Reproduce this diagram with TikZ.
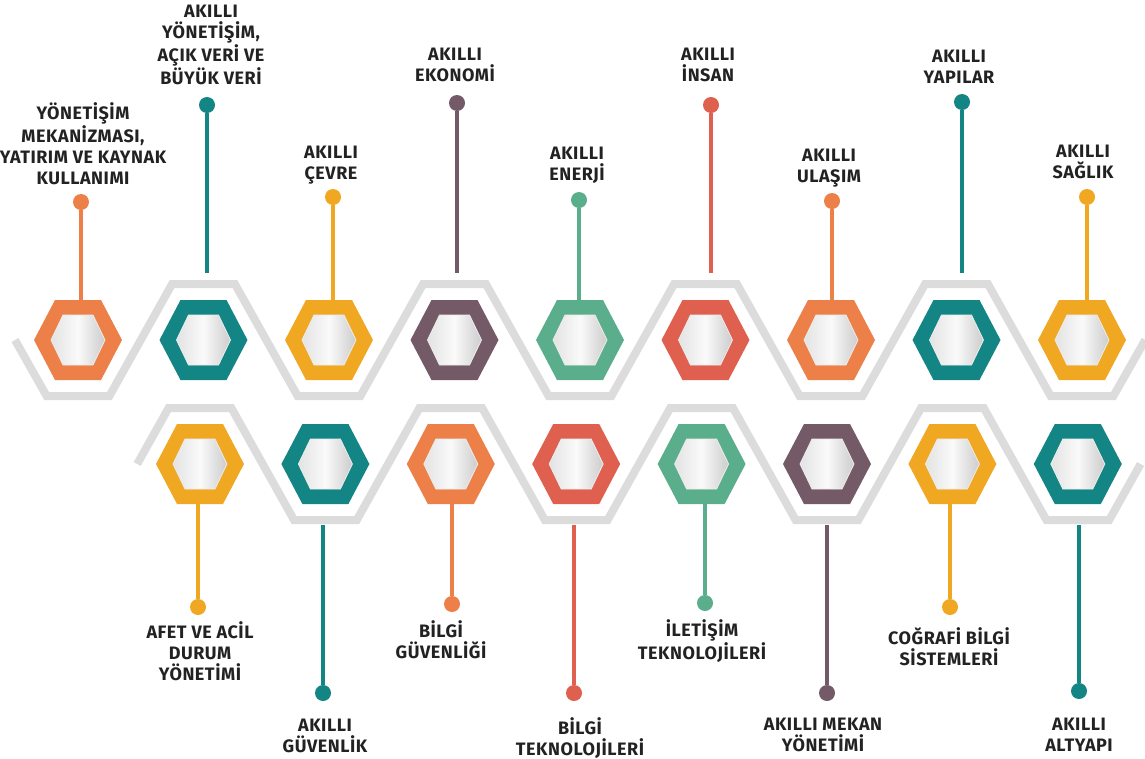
\documentclass[tikz,border=0pt]{standalone}
\usepackage{fontspec}
\setmainfont{Fira Sans}
\newfontfamily\labfont[LetterSpace=3]{Fira Sans}
\definecolor{cor}{HTML}{EC8048}
\definecolor{cte}{HTML}{138584}
\definecolor{cye}{HTML}{F0A823}
\definecolor{cpu}{HTML}{735A66}
\definecolor{cgr}{HTML}{5BAE8C}
\definecolor{cre}{HTML}{E0604F}
\definecolor{bandc}{HTML}{DCDCDC}
\definecolor{txt}{HTML}{222222}
\newcommand\hexring[4]{% name, x, y, colour
  \fill[#4] (#2-44,#3) -- (#2-23,#3-40) -- (#2+23,#3-40) -- (#2+44,#3) -- (#2+23,#3+40) -- (#2-23,#3+40) -- cycle;
  \shade[left color=gray!22, right color=gray!40, middle color=white!96!gray, draw=white!85!gray, line width=0.8pt]
    (#2-27,#3) -- (#2-15,#3-25) -- (#2+15,#3-25) -- (#2+27,#3) -- (#2+15,#3+25) -- (#2-15,#3+25) -- cycle;
  \node[hexbox] (#1) at (#2,#3) {};
}
\begin{document}
\begin{tikzpicture}[x=1pt,y=-1pt,
  hexbox/.style={inner sep=0pt, minimum width=88pt, minimum height=80pt},
  band/.style={draw=bandc, line width=8pt, line join=miter},
  pin/.style={line width=3.6pt},
  dot/.style={circle, inner sep=0pt, minimum size=16pt},
  lab/.style={align=center, inner sep=0pt, text=txt, font=\labfont\bfseries\fontsize{18}{21}\selectfont, anchor=base}]
\useasboundingbox (0,0) rectangle (1145,758);
\fill[white] (0,0) rectangle (1145,758);

% grey zigzag bands
\draw[band] (15,340) -- (46.6,396) -- (109.4,396) -- (172.1,284) -- (234.9,284) -- (297.6,396) -- (360.4,396)
  -- (423.1,284) -- (485.9,284) -- (548.6,396) -- (611.4,396) -- (674.1,284) -- (736.9,284) -- (799.6,396)
  -- (862.4,396) -- (925.1,284) -- (987.9,284) -- (1050.6,396) -- (1113.4,396) -- (1145.2,340);
\draw[band] (137.2,464) -- (168.6,408) -- (231.4,408) -- (294,520) -- (356.8,520) -- (419.4,408) -- (482.2,408)
  -- (544.8,520) -- (607.6,520) -- (670.2,408) -- (733,408) -- (795.6,520) -- (858.4,520) -- (921,408)
  -- (983.8,408) -- (1046.4,520) -- (1109.2,520) -- (1140.6,464);

% hexagons
\hexring{t1}{78}{340}{cor}
\hexring{t2}{203.5}{340}{cte}
\hexring{t3}{329}{340}{cye}
\hexring{t4}{454.5}{340}{cpu}
\hexring{t5}{580}{340}{cgr}
\hexring{t6}{705.5}{340}{cre}
\hexring{t7}{831}{340}{cor}
\hexring{t8}{956.5}{340}{cte}
\hexring{t9}{1082}{340}{cye}
\hexring{b1}{200}{464}{cye}
\hexring{b2}{325.4}{464}{cte}
\hexring{b3}{450.8}{464}{cor}
\hexring{b4}{576.2}{464}{cre}
\hexring{b5}{701.6}{464}{cgr}
\hexring{b6}{827}{464}{cpu}
\hexring{b7}{952.4}{464}{cye}
\hexring{b8}{1077.8}{464}{cte}

% dots
\node[dot, fill=cor] (dt1) at (81,202) {};
\node[dot, fill=cte] (dt2) at (207,105) {};
\node[dot, fill=cye] (dt3) at (333,197) {};
\node[dot, fill=cpu] (dt4) at (457,103) {};
\node[dot, fill=cgr] (dt5) at (579,200) {};
\node[dot, fill=cre] (dt6) at (711,105) {};
\node[dot, fill=cor] (dt7) at (832,201) {};
\node[dot, fill=cte] (dt8) at (962,102) {};
\node[dot, fill=cye] (dt9) at (1087,197) {};
\node[dot, fill=cye] (db1) at (198,607) {};
\node[dot, fill=cte] (db2) at (323,693) {};
\node[dot, fill=cor] (db3) at (452,604) {};
\node[dot, fill=cre] (db4) at (574,693) {};
\node[dot, fill=cgr] (db5) at (705,603) {};
\node[dot, fill=cpu] (db6) at (827,693) {};
\node[dot, fill=cye] (db7) at (950,607) {};
\node[dot, fill=cte] (db8) at (1079,691) {};

% free ends of pins that stop at the band
\coordinate (et2) at (207,273);
\coordinate (et4) at (457,273);
\coordinate (et6) at (711,273);
\coordinate (et8) at (962,273);
\coordinate (eb2) at (323,525);
\coordinate (eb4) at (574,525);
\coordinate (eb6) at (827,525);
\coordinate (eb8) at (1079,525);

% pins
\draw[pin, cor] (dt1) -- (dt1 |- t1.north);
\draw[pin, cte] (dt2) -- (et2);
\draw[pin, cye] (dt3) -- (dt3 |- t3.north);
\draw[pin, cpu] (dt4) -- (et4);
\draw[pin, cgr] (dt5) -- (dt5 |- t5.north);
\draw[pin, cre] (dt6) -- (et6);
\draw[pin, cor] (dt7) -- (dt7 |- t7.north);
\draw[pin, cte] (dt8) -- (et8);
\draw[pin, cye] (dt9) -- (dt9 |- t9.north);
\draw[pin, cye] (db1 |- b1.south) -- (db1);
\draw[pin, cte] (eb2) -- (db2);
\draw[pin, cor] (db3 |- b3.south) -- (db3);
\draw[pin, cre] (eb4) -- (db4);
\draw[pin, cgr] (db5 |- b5.south) -- (db5);
\draw[pin, cpu] (eb6) -- (db6);
\draw[pin, cye] (db7 |- b7.south) -- (db7);
\draw[pin, cte] (eb8) -- (db8);

% labels (anchor = baseline of the last line)
\node[lab] (lt1) at (83,184) {YÖNETİŞİM\\MEKANİZMASI,\\YATIRIM VE KAYNAK\\KULLANIMI};
\node[lab] (lt2) at (211,84) {AKILLI\\YÖNETİŞİM,\\AÇIK VERİ VE\\BÜYÜK VERİ};
\node[lab] (lt3) at (331,179) {AKILLI\\ÇEVRE};
\node[lab] (lt4) at (455,81) {AKILLI\\EKONOMİ};
\node[lab] (lt5) at (577,180) {AKILLI\\ENERJİ};
\node[lab] (lt6) at (708,81) {AKILLI\\İNSAN};
\node[lab] (lt7) at (829,182) {AKILLI\\ULAŞIM};
\node[lab] (lt8) at (959,83) {AKILLI\\YAPILAR};
\node[lab] (lt9) at (1083,178) {AKILLI\\SAĞLIK};
\node[lab] (lb1) at (200,680) {AFET VE ACİL\\DURUM\\YÖNETİMİ};
\node[lab] (lb2) at (325,752) {AKILLI\\GÜVENLİK};
\node[lab] (lb3) at (441,658) {BİLGİ\\GÜVENLİĞİ};
\node[lab] (lb4) at (580,755) {BİLGİ\\TEKNOLOJİLERİ};
\node[lab] (lb5) at (702,659) {İLETİŞİM\\TEKNOLOJİLERİ};
\node[lab] (lb6) at (823,751) {AKILLI MEKAN\\YÖNETİMİ};
\node[lab] (lb7) at (949,665) {COĞRAFİ BİLGİ\\SİSTEMLERİ};
\node[lab] (lb8) at (1079,751) {AKILLI\\ALTYAPI};
\end{tikzpicture}
\end{document}
